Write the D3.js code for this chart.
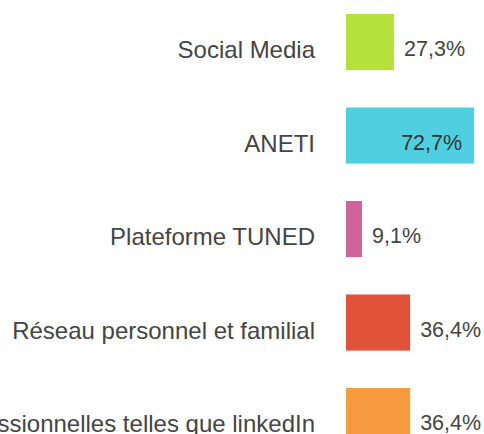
<!DOCTYPE html>
<html>
<head>
<meta charset="utf-8">
<script src="https://cdn.jsdelivr.net/npm/d3@7"></script>
<style>
  body { margin: 0; background: #fff; overflow: hidden; }
  svg { display: block; font-family: "Liberation Sans", Arial, sans-serif; }
</style>
</head>
<body>
<div id="chart"></div>
<script>
var categories = ['Social Media', 'ANETI', 'Plateforme TUNED', 'Réseau personnel et familial', 'Plateformes professionnelles telles que linkedIn'];
var values = [27.3, 72.7, 9.1, 36.4, 36.4];
var colors = ['#b6e03c', '#50cfe0', '#d0639a', '#e0523a', '#f89b3e'];

var width = 484, height = 434;

var svg = d3.select('#chart').append('svg')
  .attr('width', width)
  .attr('height', height);

var x = d3.scaleLinear().domain([0, 100]).range([346, 346 + 176.2]);
var y = d3.scaleBand().domain(categories).range([-4.7, 462.8]).paddingInner(0.4).paddingOuter(0.2);

var fmt = function (v) { return d3.format('.1f')(v).replace('.', ',') + '%'; };

var rows = svg.selectAll('g.row')
  .data(categories)
  .enter()
  .append('g')
  .attr('class', 'row');

rows.append('rect')
  .attr('x', x(0))
  .attr('y', function (d) { return y(d); })
  .attr('width', function (d, i) { return x(values[i]) - x(0); })
  .attr('height', y.bandwidth())
  .attr('fill', function (d, i) { return colors[i]; });

// category labels, right aligned before bars
rows.append('text')
  .attr('x', 315)
  .attr('y', function (d) { return y(d) + y.bandwidth() / 2 + 16; })
  .attr('text-anchor', 'end')
  .attr('font-size', 24)
  .attr('fill', '#444')
  .text(function (d) { return d; });

// value labels: inside when the bar is long enough
rows.append('text')
  .attr('x', function (d, i) { return values[i] > 60 ? x(values[i]) - 12 : x(values[i]) + 10; })
  .attr('y', function (d) { return y(d) + y.bandwidth() / 2 + 14; })
  .attr('text-anchor', function (d, i) { return values[i] > 60 ? 'end' : 'start'; })
  .attr('font-size', 21.5)
  .attr('fill', function (d, i) { return values[i] > 60 ? '#333' : '#444'; })
  .text(function (d, i) { return fmt(values[i]); });
</script>
</body>
</html>
